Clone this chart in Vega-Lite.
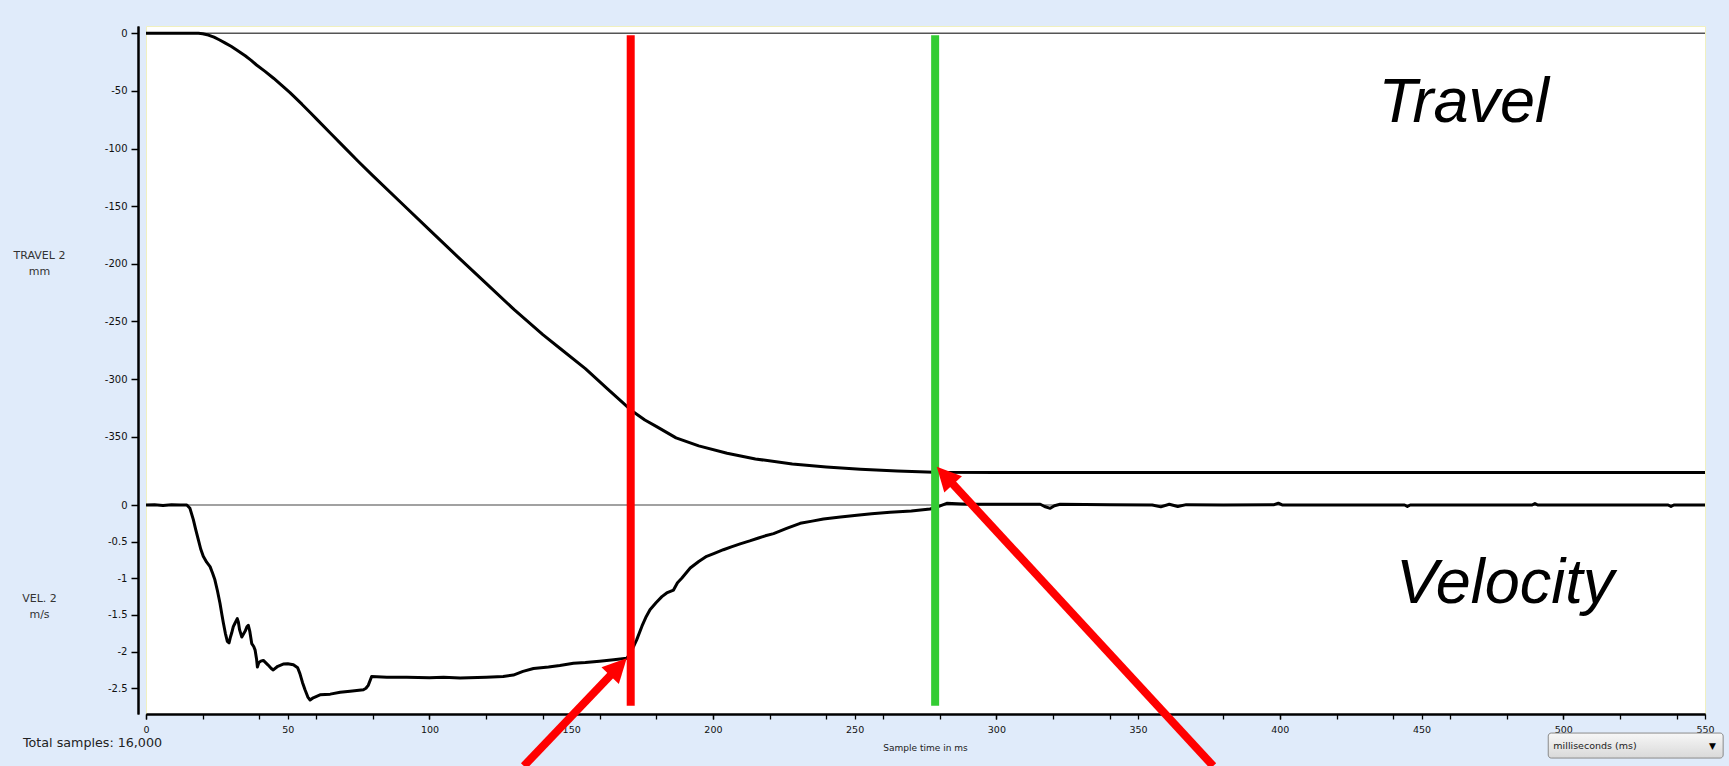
{
  "$schema": "https://vega.github.io/schema/vega-lite/v6.json",
  "width": 1559,
  "height": 688,
  "autosize": {"type": "none"},
  "padding": {"left": 146, "top": 26, "right": 24, "bottom": 52},
  "background": "#E0EBFA",
  "config": {
    "view": {"fill": "white", "stroke": "#F0F0C0", "strokeWidth": 1},
    "font": "DejaVu Sans",
    "axis": {"domainColor": "#000000", "tickColor": "#000000", "labelColor": "#111111", "titleColor": "#333333", "grid": false, "domainWidth": 2},
    "axisX": {"labelFontSize": 9.5, "labelPadding": 5, "labelFlush": false, "labelOverlap": false, "labelBound": false, "tickSize": 5, "tickWidth": 1.3, "titleFontSize": 9, "titleFontWeight": "normal", "titleColor": "#222222"},
    "axisY": {"labelFontSize": 10, "labelPadding": 4, "tickSize": 7, "tickWidth": 1.5, "labelOverlap": false, "titleFontSize": 11, "titleFontWeight": "normal"}
  },
  "datasets": {
    "travel": [
      {"t": 0, "d": 0}, {"t": 10, "d": 0}, {"t": 18.5, "d": 0}, {"t": 20, "d": -0.4}, {"t": 22, "d": -1.5}, {"t": 24, "d": -3.4},
      {"t": 26, "d": -5.8}, {"t": 28, "d": -8.5}, {"t": 30, "d": -11.3}, {"t": 32, "d": -14.5}, {"t": 35, "d": -19.5}, {"t": 37, "d": -23.3},
      {"t": 39, "d": -27.5}, {"t": 42, "d": -33}, {"t": 45, "d": -39}, {"t": 48, "d": -45.5}, {"t": 50.8, "d": -51.5}, {"t": 55, "d": -61.5},
      {"t": 58, "d": -69}, {"t": 60.2, "d": -74.5}, {"t": 65, "d": -86.5}, {"t": 70, "d": -99}, {"t": 75, "d": -111.5}, {"t": 80, "d": -123.5},
      {"t": 90, "d": -147}, {"t": 100, "d": -170.5}, {"t": 110, "d": -194}, {"t": 120, "d": -217}, {"t": 130, "d": -240}, {"t": 140, "d": -261.5},
      {"t": 146, "d": -273.3}, {"t": 155, "d": -291}, {"t": 163, "d": -309}, {"t": 168, "d": -320}, {"t": 171, "d": -326.8}, {"t": 176, "d": -335.5},
      {"t": 180, "d": -341}, {"t": 187, "d": -351}, {"t": 195, "d": -358}, {"t": 205, "d": -364.4}, {"t": 215, "d": -369.3}, {"t": 228, "d": -373.7},
      {"t": 240, "d": -376.3}, {"t": 252, "d": -378.3}, {"t": 265, "d": -379.8}, {"t": 278, "d": -380.9}, {"t": 300, "d": -381}, {"t": 400, "d": -381}, {"t": 550, "d": -381}
    ],
    "velocity": [
      {"t": 0, "v": 0}, {"t": 3, "v": 0.005}, {"t": 6, "v": -0.005}, {"t": 9, "v": 0.005}, {"t": 12, "v": 0}, {"t": 14.4, "v": 0},
      {"t": 15.5, "v": -0.045}, {"t": 16.7, "v": -0.2}, {"t": 17.5, "v": -0.33}, {"t": 18.5, "v": -0.48}, {"t": 19.3, "v": -0.6}, {"t": 20.2, "v": -0.7},
      {"t": 21.4, "v": -0.78}, {"t": 22.6, "v": -0.84}, {"t": 23.5, "v": -0.93}, {"t": 24.3, "v": -1.02}, {"t": 25.2, "v": -1.17}, {"t": 26.1, "v": -1.34},
      {"t": 26.8, "v": -1.5}, {"t": 27.3, "v": -1.61}, {"t": 28, "v": -1.75}, {"t": 28.7, "v": -1.86}, {"t": 29.3, "v": -1.88}, {"t": 29.8, "v": -1.8},
      {"t": 30.2, "v": -1.75}, {"t": 30.8, "v": -1.66}, {"t": 31.3, "v": -1.62}, {"t": 31.8, "v": -1.58}, {"t": 32.2, "v": -1.55}, {"t": 32.6, "v": -1.6},
      {"t": 33, "v": -1.7}, {"t": 33.8, "v": -1.8}, {"t": 34.4, "v": -1.76}, {"t": 35, "v": -1.72}, {"t": 35.6, "v": -1.66}, {"t": 36.1, "v": -1.64},
      {"t": 36.6, "v": -1.72}, {"t": 37.3, "v": -1.89}, {"t": 38, "v": -1.93}, {"t": 38.5, "v": -1.98}, {"t": 39, "v": -2.1}, {"t": 39.3, "v": -2.21},
      {"t": 39.8, "v": -2.15}, {"t": 40.5, "v": -2.13}, {"t": 41.4, "v": -2.12}, {"t": 43, "v": -2.18}, {"t": 44.2, "v": -2.23}, {"t": 44.9, "v": -2.25},
      {"t": 46.5, "v": -2.2}, {"t": 48.4, "v": -2.17}, {"t": 50, "v": -2.165}, {"t": 52, "v": -2.18}, {"t": 53.5, "v": -2.22}, {"t": 54.3, "v": -2.3},
      {"t": 55.2, "v": -2.42}, {"t": 56.1, "v": -2.52}, {"t": 57.1, "v": -2.62}, {"t": 57.9, "v": -2.66}, {"t": 59, "v": -2.63}, {"t": 61.4, "v": -2.59},
      {"t": 65, "v": -2.58}, {"t": 68.5, "v": -2.555}, {"t": 72, "v": -2.54}, {"t": 76.7, "v": -2.52}, {"t": 77.6, "v": -2.5}, {"t": 78.4, "v": -2.46},
      {"t": 79.2, "v": -2.38}, {"t": 79.6, "v": -2.34}, {"t": 85, "v": -2.35}, {"t": 92, "v": -2.35}, {"t": 100, "v": -2.355}, {"t": 105, "v": -2.35},
      {"t": 110.8, "v": -2.36}, {"t": 120, "v": -2.35}, {"t": 126, "v": -2.34}, {"t": 129.6, "v": -2.32}, {"t": 133, "v": -2.27}, {"t": 136.7, "v": -2.23},
      {"t": 142, "v": -2.21}, {"t": 146, "v": -2.19}, {"t": 150.8, "v": -2.16}, {"t": 155, "v": -2.15}, {"t": 160, "v": -2.13}, {"t": 165, "v": -2.11},
      {"t": 169.6, "v": -2.09}, {"t": 171, "v": -2.02}, {"t": 172, "v": -1.93}, {"t": 173.1, "v": -1.84}, {"t": 175, "v": -1.65}, {"t": 176.5, "v": -1.52},
      {"t": 177.8, "v": -1.43}, {"t": 180, "v": -1.33}, {"t": 182, "v": -1.25}, {"t": 183.7, "v": -1.2}, {"t": 186.1, "v": -1.16}, {"t": 187.5, "v": -1.06},
      {"t": 189, "v": -1}, {"t": 192, "v": -0.86}, {"t": 195, "v": -0.77}, {"t": 197.8, "v": -0.7}, {"t": 200.5, "v": -0.66}, {"t": 203.7, "v": -0.61},
      {"t": 206.5, "v": -0.57}, {"t": 209.6, "v": -0.53}, {"t": 213, "v": -0.49}, {"t": 216.1, "v": -0.45}, {"t": 218.5, "v": -0.42}, {"t": 221.4, "v": -0.39},
      {"t": 226, "v": -0.32}, {"t": 230.8, "v": -0.25}, {"t": 235, "v": -0.22}, {"t": 239, "v": -0.19}, {"t": 245, "v": -0.165}, {"t": 250.8, "v": -0.14},
      {"t": 256, "v": -0.12}, {"t": 262.5, "v": -0.1}, {"t": 270, "v": -0.08}, {"t": 276.6, "v": -0.055}, {"t": 279, "v": -0.03}, {"t": 282.5, "v": 0.023},
      {"t": 288, "v": 0.015}, {"t": 291.8, "v": 0.01}, {"t": 300, "v": 0.01}, {"t": 315.5, "v": 0.01}, {"t": 317, "v": -0.02}, {"t": 319, "v": -0.045},
      {"t": 320.5, "v": -0.01}, {"t": 322.5, "v": 0.01}, {"t": 340, "v": 0.005}, {"t": 355, "v": 0}, {"t": 358, "v": -0.025}, {"t": 361, "v": 0.01},
      {"t": 364, "v": -0.02}, {"t": 367, "v": 0.005}, {"t": 380, "v": 0}, {"t": 398, "v": 0.005}, {"t": 399.5, "v": 0.025}, {"t": 401, "v": 0},
      {"t": 420, "v": 0}, {"t": 444, "v": 0}, {"t": 445, "v": -0.02}, {"t": 446, "v": 0}, {"t": 470, "v": 0}, {"t": 489, "v": 0}, {"t": 490, "v": 0.02},
      {"t": 491, "v": 0}, {"t": 520, "v": 0}, {"t": 537, "v": 0}, {"t": 538, "v": -0.02}, {"t": 539, "v": 0}, {"t": 550, "v": 0}
    ],
    "arrows": [
      {"arrow": "A", "t": 133.3, "v": -3.561}, {"arrow": "A", "t": 165.9, "v": -2.239},
      {"arrow": "B", "t": 376.5, "v": -3.561}, {"arrow": "B", "t": 282.6, "v": 0.372}
    ]
  },
  "layer": [
    {
      "layer": [
        {
          "data": {"values": [{"d": 0}]},
          "mark": {"type": "rule", "color": "#555555", "strokeWidth": 1.5},
          "encoding": {"y": {"field": "d", "type": "quantitative"}}
        },
        {
          "data": {"name": "travel"},
          "mark": {"type": "line", "color": "#000000", "strokeWidth": 3, "strokeJoin": "round"},
          "encoding": {
            "x": {
              "field": "t", "type": "quantitative",
              "scale": {"domain": [0, 550], "nice": false, "zero": false},
              "axis": {
                "orient": "bottom",
                "values": [0, 50, 100, 150, 200, 250, 300, 350, 400, 450, 500, 550],
                "labelOverlap": false, "labelFlush": false, "labelBound": false,
                "title": "Sample time in ms",
                "titleX": 779, "titleY": 33, "titleAlign": "center", "titleBaseline": "middle"
              }
            },
            "y": {
              "field": "d", "type": "quantitative",
              "scale": {"domain": [-590.6, 6.33], "nice": false, "zero": false},
              "axis": {
                "orient": "left", "offset": 8,
                "values": [0, -50, -100, -150, -200, -250, -300, -350],
                "labelExpr": "toString(datum.value)",
                "title": ["TRAVEL 2", "mm"], "titleAngle": 0,
                "titleX": -99, "titleY": 229, "titleAlign": "center", "titleBaseline": "middle", "titleLineHeight": 16
              }
            }
          }
        }
      ]
    },
    {
      "layer": [
        {
          "data": {"values": [{"v": 0}]},
          "mark": {"type": "rule", "color": "#444444", "strokeWidth": 1.2},
          "encoding": {"y": {"field": "v", "type": "quantitative"}}
        },
        {
          "data": {"name": "velocity"},
          "mark": {"type": "line", "color": "#000000", "strokeWidth": 3, "strokeJoin": "round"},
          "encoding": {
            "x": {
              "field": "t", "type": "quantitative",
              "scale": {"domain": [0, 550], "nice": false, "zero": false},
              "axis": {
                "orient": "bottom",
                "values": [0,10,20,30,40,50,60,70,80,90,100,110,120,130,140,150,160,170,180,190,200,210,220,230,240,250,260,270,280,290,300,310,320,330,340,350,360,370,380,390,400,410,420,430,440,450,460,470,480,490,500,510,520,530,540,550],
                "labels": false, "title": null
              }
            },
            "y": {
              "field": "v", "type": "quantitative",
              "scale": {"domain": [-2.851, 6.535], "nice": false, "zero": false},
              "axis": {
                "orient": "left", "offset": 8,
                "values": [0, -0.5, -1, -1.5, -2, -2.5],
                "labelExpr": "toString(datum.value)",
                "title": ["VEL. 2", "m/s"], "titleAngle": 0,
                "titleX": -99, "titleY": 572, "titleAlign": "center", "titleBaseline": "middle", "titleLineHeight": 16
              }
            }
          }
        },
        {
          "data": {"values": [{"t": 171, "v": 6.41, "v2": -2.74}]},
          "mark": {"type": "rule", "color": "#FF0000", "strokeWidth": 8},
          "encoding": {"x": {"field": "t", "type": "quantitative"}, "y": {"field": "v", "type": "quantitative"}, "y2": {"field": "v2"}}
        },
        {
          "data": {"values": [{"t": 278.4, "v": 6.41, "v2": -2.74}]},
          "mark": {"type": "rule", "color": "#33CC33", "strokeWidth": 8},
          "encoding": {"x": {"field": "t", "type": "quantitative"}, "y": {"field": "v", "type": "quantitative"}, "y2": {"field": "v2"}}
        },
        {
          "data": {"name": "arrows"},
          "mark": {"type": "line", "color": "#FF0000", "strokeWidth": 8, "strokeCap": "butt", "clip": false},
          "encoding": {
            "x": {"field": "t", "type": "quantitative"},
            "y": {"field": "v", "type": "quantitative"},
            "detail": {"field": "arrow"}
          }
        },
        {
          "data": {"values": [{"t": 169.6, "v": -2.091}]},
          "mark": {"type": "point", "shape": "M0,0L-1,2L1,2Z", "filled": true, "color": "#FF0000", "opacity": 1, "size": 576, "angle": 43.7, "clip": false},
          "encoding": {"x": {"field": "t", "type": "quantitative"}, "y": {"field": "v", "type": "quantitative"}}
        },
        {
          "data": {"values": [{"t": 279.0, "v": 0.5225}]},
          "mark": {"type": "point", "shape": "M0,0L-1,2L1,2Z", "filled": true, "color": "#FF0000", "opacity": 1, "size": 576, "angle": 317.3, "clip": false},
          "encoding": {"x": {"field": "t", "type": "quantitative"}, "y": {"field": "v", "type": "quantitative"}}
        },
        {
          "data": {"values": [{"t": 464.9, "v": 5.229, "label": "Travel"}, {"t": 479.5, "v": -1.337, "label": "Velocity"}]},
          "mark": {"type": "text", "font": "Liberation Sans", "fontStyle": "italic", "fontSize": 63, "color": "#000000", "align": "center", "baseline": "alphabetic"},
          "encoding": {"x": {"field": "t", "type": "quantitative"}, "y": {"field": "v", "type": "quantitative"}, "text": {"field": "label"}}
        },
        {
          "data": {"values": [{"t": -43.4, "v": -3.298, "label": "Total samples: 16,000"}]},
          "mark": {"type": "text", "font": "DejaVu Sans", "fontSize": 12.7, "color": "#222222", "align": "left", "baseline": "alphabetic", "clip": false},
          "encoding": {"x": {"field": "t", "type": "quantitative"}, "y": {"field": "v", "type": "quantitative"}, "text": {"field": "label"}}
        },
        {
          "data": {"values": [{"t": 494.7, "t2": 556.4, "v": -3.111, "v2": -3.452}]},
          "mark": {"type": "rect", "cornerRadius": 3, "fill": {"x1": 0, "y1": 0, "x2": 0, "y2": 1, "gradient": "linear", "stops": [{"offset": 0, "color": "#F7F7F7"}, {"offset": 1, "color": "#D9D9D9"}]}, "stroke": "#8A8A8A", "strokeWidth": 1, "clip": false},
          "encoding": {"x": {"field": "t", "type": "quantitative"}, "x2": {"field": "t2"}, "y": {"field": "v", "type": "quantitative"}, "y2": {"field": "v2"}}
        },
        {
          "data": {"values": [{"t": 496.5, "v": -3.33, "label": "milliseconds (ms)"}]},
          "mark": {"type": "text", "font": "DejaVu Sans", "fontSize": 9.5, "color": "#222222", "align": "left", "baseline": "alphabetic", "clip": false},
          "encoding": {"x": {"field": "t", "type": "quantitative"}, "y": {"field": "v", "type": "quantitative"}, "text": {"field": "label"}}
        },
        {
          "data": {"values": [{"t": 552.6, "v": -3.29, "label": "▼"}]},
          "mark": {"type": "text", "font": "DejaVu Sans", "fontSize": 9, "color": "#000000", "align": "center", "baseline": "middle", "clip": false},
          "encoding": {"x": {"field": "t", "type": "quantitative"}, "y": {"field": "v", "type": "quantitative"}, "text": {"field": "label"}}
        }
      ]
    }
  ],
  "resolve": {"scale": {"x": "independent", "y": "independent"}, "axis": {"x": "independent", "y": "independent"}}
}
